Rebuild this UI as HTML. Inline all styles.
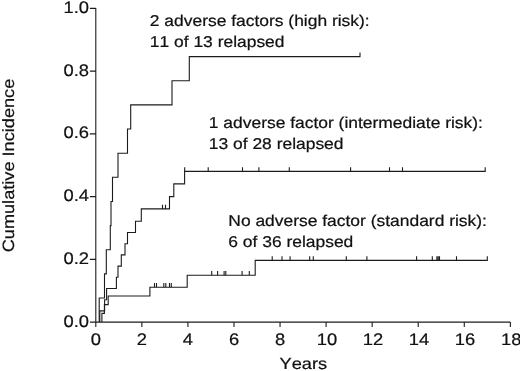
<!DOCTYPE html>
<html><head><meta charset="utf-8"><title>Cumulative Incidence</title>
<style>
html,body{margin:0;padding:0;background:#fff;}
svg{display:block;filter:grayscale(1);}
text{font-family:"Liberation Sans",sans-serif;fill:#111;font-kerning:none;text-rendering:geometricPrecision;stroke:#111;stroke-width:0.22px;}
</style></head><body>
<svg width="520" height="371" viewBox="0 0 520 371">
<rect x="0" y="0" width="520" height="371" fill="#ffffff"/>
<g fill="none" stroke="#1c1c1c" stroke-width="1.1" stroke-linejoin="miter" stroke-linecap="butt">
<path d="M95.80,7.90 V322.10 M89.90,322.10 H510.34 M89.90,322.10 H95.80 M89.90,259.36 H95.80 M89.90,196.62 H95.80 M89.90,133.88 H95.80 M89.90,71.14 H95.80 M89.90,8.40 H95.80 M95.80,322.10 v5.0 M141.86,322.10 v5.0 M187.92,322.10 v5.0 M233.98,322.10 v5.0 M280.04,322.10 v5.0 M326.10,322.10 v5.0 M372.16,322.10 v5.0 M418.22,322.10 v5.0 M464.28,322.10 v5.0 M510.34,322.10 v5.0" stroke-width="1.1"/>
<path d="M99.20,322.10 L99.20,297.97 L104.50,297.97 L104.50,273.84 L106.30,273.84 L106.30,249.71 L110.30,249.71 L110.30,225.58 L111.00,225.58 L111.00,201.45 L112.50,201.45 L112.50,177.32 L118.00,177.32 L118.00,153.18 L127.50,153.18 L127.50,129.05 L130.70,129.05 L130.70,104.92 L172.00,104.92 L172.00,80.79 L189.30,80.79 L189.30,56.66 L360.00,56.66 L360.00,52.46"/>
<path d="M99.80,322.10 L99.80,310.90 L104.60,310.90 L104.60,299.69 L106.60,299.69 L106.60,288.49 L116.40,288.49 L116.40,277.29 L118.00,277.29 L118.00,266.08 L121.30,266.08 L121.30,254.88 L125.00,254.88 L125.00,243.68 L127.50,243.68 L127.50,232.47 L135.50,232.47 L135.50,221.27 L141.30,221.27 L141.30,208.90 L169.50,208.90 L169.50,196.60 L173.80,196.60 L173.80,183.90 L184.60,183.90 L184.60,171.40 L485.20,171.40 L485.20,167.20"/>
<path d="M162.50,208.90 v-4.2 M165.50,208.90 v-4.2 M184.70,171.40 v-4.2 M208.20,171.40 v-4.2 M242.50,171.40 v-4.2 M258.90,171.40 v-4.2 M289.30,171.40 v-4.2 M350.60,171.40 v-4.2 M389.50,171.40 v-4.2 M402.50,171.40 v-4.2"/>
<path d="M101.90,322.10 L101.90,313.39 L104.40,313.39 L104.40,304.67 L108.20,304.67 L108.20,295.96 L149.90,295.96 L149.90,287.20 L187.20,287.20 L187.20,275.30 L255.20,275.30 L255.20,260.40 L487.30,260.40 L487.30,256.20"/>
<path d="M154.50,287.20 v-4.2 M156.50,287.20 v-4.2 M163.80,287.20 v-4.2 M165.80,287.20 v-4.2 M169.50,287.20 v-4.2 M171.30,287.20 v-4.2 M211.70,275.30 v-4.2 M217.60,275.30 v-4.2 M224.10,275.30 v-4.2 M225.80,275.30 v-4.2 M242.10,275.30 v-4.2 M249.30,275.30 v-4.2 M272.20,260.40 v-4.2 M282.00,260.40 v-4.2 M290.10,260.40 v-4.2 M309.70,260.40 v-4.2 M313.30,260.40 v-4.2 M346.30,260.40 v-4.2 M366.90,260.40 v-4.2 M416.60,260.40 v-4.2 M432.30,260.40 v-4.2 M436.90,260.40 v-4.2 M438.20,260.40 v-4.2 M439.50,260.40 v-4.2 M456.50,260.40 v-4.2"/>
</g>
<text transform="translate(89.00,326.60) scale(1.1,1)" font-size="16.7" text-anchor="end">0.0</text>
<text transform="translate(89.00,263.86) scale(1.1,1)" font-size="16.7" text-anchor="end">0.2</text>
<text transform="translate(89.00,201.12) scale(1.1,1)" font-size="16.7" text-anchor="end">0.4</text>
<text transform="translate(89.00,138.38) scale(1.1,1)" font-size="16.7" text-anchor="end">0.6</text>
<text transform="translate(89.00,75.64) scale(1.1,1)" font-size="16.7" text-anchor="end">0.8</text>
<text transform="translate(89.00,12.90) scale(1.1,1)" font-size="16.7" text-anchor="end">1.0</text>
<text transform="translate(95.80,344.70) scale(1.1,1)" font-size="16.7" text-anchor="middle">0</text>
<text transform="translate(141.86,344.70) scale(1.1,1)" font-size="16.7" text-anchor="middle">2</text>
<text transform="translate(187.92,344.70) scale(1.1,1)" font-size="16.7" text-anchor="middle">4</text>
<text transform="translate(233.98,344.70) scale(1.1,1)" font-size="16.7" text-anchor="middle">6</text>
<text transform="translate(280.04,344.70) scale(1.1,1)" font-size="16.7" text-anchor="middle">8</text>
<text transform="translate(326.90,344.70) scale(1.1,1)" font-size="16.7" text-anchor="middle">10</text>
<text transform="translate(372.96,344.70) scale(1.1,1)" font-size="16.7" text-anchor="middle">12</text>
<text transform="translate(419.02,344.70) scale(1.1,1)" font-size="16.7" text-anchor="middle">14</text>
<text transform="translate(465.08,344.70) scale(1.1,1)" font-size="16.7" text-anchor="middle">16</text>
<text transform="translate(511.14,344.70) scale(1.1,1)" font-size="16.7" text-anchor="middle">18</text>
<text transform="translate(303.30,369.00) scale(1.14,1)" font-size="16.0" text-anchor="middle">Years</text>
<text transform="translate(14.3,165.5) rotate(-90) scale(1.108,1)" font-size="16.4" text-anchor="middle">Cumulative Incidence</text>
<text transform="translate(149.80,25.80) scale(1.111,1)" font-size="15.7" text-anchor="start">2 adverse factors (high risk):</text>
<text transform="translate(149.80,46.90) scale(1.111,1)" font-size="15.7" text-anchor="start">11 of 13 relapsed</text>
<text transform="translate(208.80,128.10) scale(1.111,1)" font-size="15.7" text-anchor="start">1 adverse factor (intermediate risk):</text>
<text transform="translate(208.80,148.70) scale(1.111,1)" font-size="15.7" text-anchor="start">13 of 28 relapsed</text>
<text transform="translate(228.30,225.70) scale(1.111,1)" font-size="15.7" text-anchor="start">No adverse factor (standard risk):</text>
<text transform="translate(228.30,246.80) scale(1.111,1)" font-size="15.7" text-anchor="start">6 of 36 relapsed</text>
</svg>
</body></html>
